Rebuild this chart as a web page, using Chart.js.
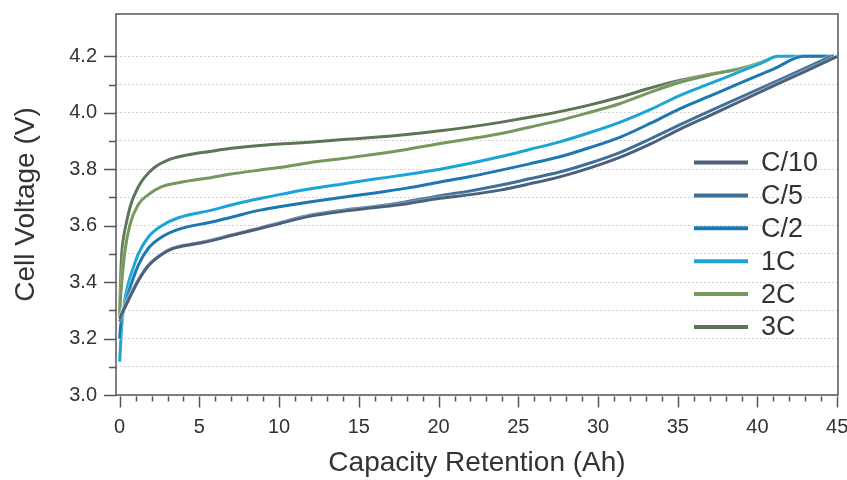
<!DOCTYPE html>
<html><head><meta charset="utf-8">
<script src="https://cdn.jsdelivr.net/npm/chart.js@4"></script>
<style>html,body{margin:0;padding:0;background:#fff}</style>
</head><body>
<canvas id="c" width="847" height="480"></canvas>
<script>
// ---- data (Capacity Ah, Cell Voltage V) ----
const seriesLabels = ['C/10', 'C/5', 'C/2', '1C', '2C', '3C'];
const seriesColors = ['#4b6079', '#3e6f99', '#1c77b2', '#1ba4d6', '#75995a', '#5e7457'];

const capC10 = [0,0.15,0.54,1.17,1.8,2.64,3.3,4.7,5.77,7,8.8,10,11.9,14,16,18,20.1,22,23.85,25.7,27.6,29.5,31.4,33.3,35.15,37,38.9,41,43,45];
const voltC10 = [3.27,3.29,3.335,3.405,3.458,3.498,3.518,3.535,3.547,3.565,3.59,3.607,3.633,3.651,3.664,3.678,3.697,3.71,3.726,3.748,3.773,3.805,3.843,3.89,3.942,3.99,4.04,4.095,4.147,4.2];

const capC5 = [0,0.15,0.54,1.17,1.8,2.64,3.3,4.7,5.77,7,8.8,10,11.9,14,16,18,20.1,22,23.85,25.7,27.6,29.5,31.4,33.3,35.15,37,38.9,41,43,44.6];
const voltC5 = [3.26,3.285,3.338,3.408,3.46,3.50,3.52,3.537,3.549,3.567,3.592,3.61,3.637,3.655,3.668,3.685,3.706,3.723,3.743,3.766,3.79,3.822,3.86,3.908,3.958,4.006,4.054,4.107,4.158,4.2];

const capC2 = [0,0.05,0.2,0.54,1.17,1.8,2.64,3.68,5.77,7,8.8,10,11.9,14,16,18,20.1,22,23.85,25.7,27.6,29.5,31.4,33.3,35.15,37,38.9,41,42.9,44.8];
const voltC2 = [3.2,3.24,3.29,3.36,3.46,3.52,3.56,3.587,3.613,3.63,3.655,3.667,3.684,3.701,3.716,3.733,3.755,3.774,3.796,3.819,3.844,3.877,3.914,3.963,4.015,4.059,4.105,4.155,4.2,4.2];

const cap1C = [0,0.05,0.13,0.3,0.54,0.85,1.17,1.8,2.64,3.68,5.77,7,8.8,10,11.9,14,16,18,20.1,22,23.85,25.7,27.6,29.5,31.4,33.3,35.15,37,38.9,40.2,41.3,44.8];
const volt1C = [3.118,3.17,3.24,3.33,3.395,3.45,3.5,3.56,3.60,3.628,3.655,3.673,3.696,3.71,3.73,3.748,3.765,3.781,3.80,3.821,3.844,3.87,3.897,3.93,3.967,4.012,4.062,4.103,4.146,4.175,4.2,4.2];

const cap2C = [0,0.05,0.13,0.33,0.65,1.17,1.8,2.64,3.68,5.77,7,8.8,10,11.9,14,16,18,20.1,22,23.85,25.7,27.6,29.5,31.4,33.3,35.15,37,38.9,40,41];
const volt2C = [3.28,3.34,3.40,3.51,3.605,3.675,3.71,3.738,3.752,3.771,3.783,3.797,3.806,3.823,3.838,3.853,3.870,3.891,3.908,3.926,3.949,3.973,4.002,4.033,4.073,4.108,4.134,4.156,4.175,4.197];

const cap3C = [0,0.04,0.13,0.25,0.44,0.7,0.96,1.3,1.59,2.2,3.05,4.1,5.77,7,8.8,10,11.9,14,16,18,20.1,22,23.85,25.7,27.6,29.5,31.4,33.3,35.15,37,38.9,40,40.8];
const volt3C = [3.29,3.38,3.50,3.56,3.615,3.675,3.713,3.75,3.773,3.807,3.833,3.849,3.864,3.874,3.884,3.889,3.896,3.905,3.913,3.923,3.936,3.95,3.966,3.984,4.004,4.028,4.056,4.088,4.115,4.137,4.156,4.172,4.19];

const xMajorTicks = [0,5,10,15,20,25,30,35,40,45];
const xMinorTicks = [0,1,2,3,4,5,6,7,8,9,10,11,12,13,14,15,16,17,18,19,20,21,22,23,24,25,26,27,28,29,30,31,32,33,34,35,36,37,38,39,40,41,42,43,44,45];
const yTicks = [3.0,3.1,3.2,3.3,3.4,3.5,3.6,3.7,3.8,3.9,4.0,4.1,4.2];
const yLabelTicks = [3.0,3.2,3.4,3.6,3.8,4.0,4.2];

const caps = [capC10, capC5, capC2, cap1C, cap2C, cap3C];
const volts = [voltC10, voltC5, voltC2, volt1C, volt2C, volt3C];

const FONT = "'Liberation Sans', Arial, Helvetica, sans-serif";
const TXT = '#333333';
const AXC = '#555555';

const datasets = seriesLabels.map((lab, i) => ({
  label: lab,
  data: caps[i].map((x, j) => ({x: x, y: volts[i][j]})),
  borderColor: seriesColors[i],
  backgroundColor: seriesColors[i],
  borderWidth: 3,
  pointRadius: 0,
  fill: false,
  cubicInterpolationMode: 'monotone'
}));

const isLabelTick = v => yLabelTicks.some(t => Math.abs(t - v) < 1e-6);
const noPad = s => { s.paddingTop = 0; s.paddingBottom = 0; s.paddingLeft = 0; s.paddingRight = 0; };

const framePlugin = {
  id: 'frame',
  beforeDatasetDraw(chart) {
    const c = chart.ctx;
    c.save();
    c.shadowColor = 'rgba(255,255,255,0.95)';
    c.shadowBlur = 2;
  },
  afterDatasetDraw(chart) { chart.ctx.restore(); },
  afterDraw(chart) {
    const c = chart.ctx, a = chart.chartArea;
    const xs = chart.scales.x, ys = chart.scales.y;
    c.save();
    c.strokeStyle = AXC;
    c.lineWidth = 1.5;
    c.strokeRect(a.left, a.top, a.right - a.left, a.bottom - a.top);
    // y ticks
    c.beginPath();
    yTicks.forEach(v => {
      const py = Math.round(ys.getPixelForValue(v)) + 0.5;
      const len = isLabelTick(v) ? 12 : 7;
      c.moveTo(a.left - len, py); c.lineTo(a.left, py);
    });
    c.stroke();
    // x ticks
    c.beginPath();
    xMinorTicks.forEach(v => {
      const px = Math.round(xs.getPixelForValue(v)) + 0.5;
      const len = xMajorTicks.includes(v) ? 11 : 5;
      c.moveTo(px, a.bottom + 1.5); c.lineTo(px, a.bottom + 1.5 + len);
    });
    c.stroke();
    // legend
    c.font = '27px ' + FONT;
    c.fillStyle = TXT;
    c.textBaseline = 'middle';
    c.textAlign = 'left';
    chart.data.datasets.forEach((ds, i) => {
      const y = 162.5 + i * 32.9;
      c.strokeStyle = ds.borderColor;
      c.lineWidth = 4;
      c.beginPath(); c.moveTo(694, y); c.lineTo(748, y); c.stroke();
      c.fillText(ds.label, 761, y + 1);
    });
    c.restore();
  }
};

new Chart(document.getElementById('c'), {
  type: 'line',
  data: { datasets },
  options: {
    responsive: false,
    animation: false,
    layout: { padding: { top: 14, right: 9, left: 0, bottom: 0 } },
    plugins: { legend: { display: false }, tooltip: { enabled: false } },
    scales: {
      x: {
        type: 'linear', min: -0.23, max: 45.05,
        afterBuildTicks: s => { s.ticks = xMajorTicks.map(v => ({ value: v })); },
        afterFit: s => { s.height = 85; noPad(s); },
        grid: { display: false, drawTicks: false },
        border: { display: false },
        ticks: { color: TXT, font: { family: FONT, size: 20 }, padding: 20, maxRotation: 0, autoSkip: false, callback: v => String(v) },
        title: { display: true, text: 'Capacity Retention (Ah)', color: TXT, font: { family: FONT, size: 28 }, padding: { top: 0, bottom: 0 } }
      },
      y: {
        type: 'linear', min: 3.0, max: 4.35,
        afterBuildTicks: s => { s.ticks = yTicks.map(v => ({ value: v })); },
        afterFit: s => { s.width = 116; noPad(s); },
        grid: { color: '#d2d2d2', lineWidth: 1, drawTicks: false },
        border: { display: false, dash: [2, 2] },
        ticks: { color: TXT, font: { family: FONT, size: 20 }, padding: 19, autoSkip: false, callback: v => isLabelTick(v) ? v.toFixed(1) : '' },
        title: { display: true, text: 'Cell Voltage (V)', color: TXT, font: { family: FONT, size: 28 }, padding: { top: 9, bottom: 0 } }
      }
    }
  },
  plugins: [framePlugin]
});
</script>
</body></html>
